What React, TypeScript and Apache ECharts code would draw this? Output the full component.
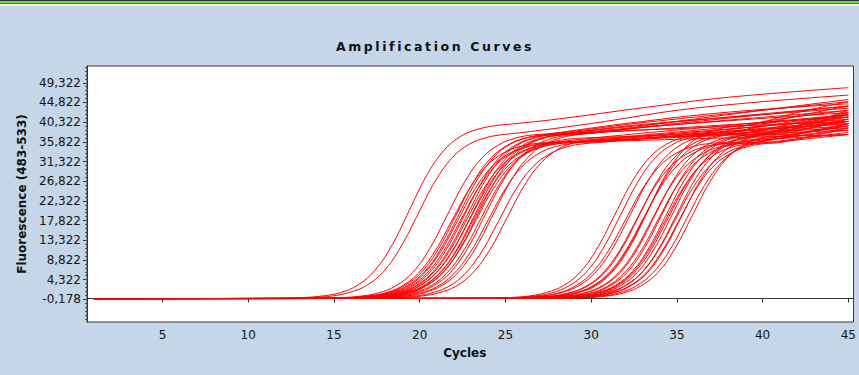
import React, { useEffect, useRef } from "react";
import * as echarts from "echarts";

// ---------- axis data ----------
const titleText = "Amplification Curves";
const xName = "Cycles";
const yName = "Fluorescence (483-533)";
const xTickValues = [5, 10, 15, 20, 25, 30, 35, 40, 45];
const yTickValues = [-0.178, 4.322, 8.822, 13.322, 17.822, 22.322, 26.822, 31.322, 35.822, 40.322, 44.822, 49.322];
const yMinorStep = 0.9;
const xRange = [0.6, 45.3];
const yRange = [-5.35, 53.15];
const firstCycle = 1;
const baselineValue = 0;

// ---------- early group: cycle of the first rising point, then one value per cycle, then plateau points ----------
const earlyStart = [11.4, 11.9, 13.6, 13.9, 14.1, 14.2, 14.3, 14.4, 14.6, 14.7, 14.8, 14.9, 15.0, 15.1, 15.2, 15.3, 15.4, 15.6, 15.8, 16.0, 16.3, 16.6, 17.1];
const earlyRise = [
  [0.05, 0.12, 0.28, 0.63, 1.4, 3.1, 6.5, 12.3, 20.2, 28.1, 33.8, 37.1, 38.7, 39.5, 39.9],
  [0.05, 0.12, 0.27, 0.6, 1.4, 3.0, 6.2, 11.8, 19.3, 26.8, 32.2, 35.3, 36.8, 37.5, 37.9],
  [0.05, 0.11, 0.25, 0.58, 1.3, 2.9, 6.0, 11.5, 19.0, 26.5, 32.0, 35.1, 36.7, 37.4, 37.7],
  [0.05, 0.1, 0.24, 0.55, 1.2, 2.7, 5.7, 10.9, 18.0, 25.1, 30.3, 33.3, 34.8, 35.5, 35.8],
  [0.05, 0.11, 0.25, 0.57, 1.3, 2.9, 6.0, 11.4, 18.9, 26.4, 31.9, 35.0, 36.6, 37.3, 37.6],
  [0.05, 0.1, 0.23, 0.52, 1.2, 2.6, 5.5, 10.6, 17.7, 24.9, 30.1, 33.1, 34.7, 35.4, 35.7],
  [0.05, 0.12, 0.27, 0.6, 1.4, 3.0, 6.2, 11.8, 19.3, 26.8, 32.2, 35.3, 36.8, 37.5, 37.9],
  [0.05, 0.1, 0.24, 0.55, 1.2, 2.7, 5.7, 10.9, 18.0, 25.1, 30.3, 33.3, 34.8, 35.5, 35.8],
  [0.05, 0.11, 0.25, 0.58, 1.3, 2.9, 6.0, 11.5, 19.0, 26.5, 32.0, 35.1, 36.7, 37.4, 37.7],
  [0.05, 0.1, 0.23, 0.52, 1.2, 2.6, 5.5, 10.6, 17.7, 24.9, 30.1, 33.1, 34.7, 35.4, 35.7],
  [0.05, 0.12, 0.27, 0.6, 1.4, 3.0, 6.2, 11.8, 19.3, 26.8, 32.2, 35.3, 36.8, 37.5, 37.9],
  [0.05, 0.1, 0.24, 0.55, 1.2, 2.7, 5.7, 10.9, 18.0, 25.1, 30.3, 33.3, 34.8, 35.5, 35.8],
  [0.05, 0.11, 0.25, 0.57, 1.3, 2.9, 6.0, 11.4, 18.9, 26.4, 31.9, 35.0, 36.6, 37.3, 37.6],
  [0.05, 0.1, 0.23, 0.52, 1.2, 2.6, 5.5, 10.6, 17.7, 24.9, 30.1, 33.1, 34.7, 35.4, 35.7],
  [0.05, 0.11, 0.25, 0.58, 1.3, 2.9, 6.0, 11.5, 19.0, 26.5, 32.0, 35.1, 36.7, 37.4, 37.7],
  [0.05, 0.1, 0.24, 0.55, 1.2, 2.7, 5.7, 10.9, 18.0, 25.1, 30.3, 33.3, 34.8, 35.5, 35.8],
  [0.05, 0.12, 0.27, 0.6, 1.4, 3.0, 6.2, 11.8, 19.3, 26.8, 32.2, 35.3, 36.8, 37.5, 37.9],
  [0.05, 0.11, 0.25, 0.57, 1.3, 2.8, 5.9, 11.2, 18.5, 25.8, 31.1, 34.2, 35.7, 36.4, 36.7],
  [0.05, 0.11, 0.25, 0.58, 1.3, 2.9, 6.0, 11.5, 19.0, 26.5, 32.0, 35.1, 36.7, 37.4, 37.7],
  [0.05, 0.1, 0.24, 0.55, 1.2, 2.7, 5.7, 10.9, 18.0, 25.1, 30.3, 33.3, 34.8, 35.5, 35.8],
  [0.05, 0.12, 0.27, 0.6, 1.4, 3.0, 6.2, 11.8, 19.3, 26.8, 32.2, 35.3, 36.8, 37.5, 37.9],
  [0.05, 0.1, 0.23, 0.52, 1.2, 2.6, 5.5, 10.6, 17.7, 24.9, 30.1, 33.1, 34.7, 35.4, 35.7],
  [0.05, 0.11, 0.25, 0.57, 1.3, 2.8, 5.9, 11.2, 18.5, 25.8, 31.1, 34.2, 35.7, 36.4, 36.7],
];
const earlyTail = [
  [[28, 41.0], [33, 43.6], [38, 46.0], [45, 48.2]],
  [[30, 40.0], [36, 43.5], [45, 46.5]],
  [[32, 40.0], [38, 42.6], [45, 44.5]],
  [[33, 37.8], [45, 42.0]],
  [[33, 39.8], [45, 43.5]],
  [[34, 37.2], [45, 40.0]],
  [[33, 40.2], [45, 45.0]],
  [[35, 37.0], [45, 39.5]],
  [[34, 39.5], [45, 42.5]],
  [[36, 37.0], [45, 38.5]],
  [[34, 40.0], [45, 44.0]],
  [[35, 37.8], [45, 41.0]],
  [[35, 39.0], [45, 41.5]],
  [[45, 37.5]],
  [[35, 39.8], [45, 43.0]],
  [[35, 37.2], [45, 40.0]],
  [[36, 39.0], [45, 40.5]],
  [[35, 37.6], [45, 41.5]],
  [[35, 40.0], [45, 44.0]],
  [[36, 37.2], [45, 39.0]],
  [[35, 40.5], [45, 45.5]],
  [[36, 37.6], [45, 40.5]],
  [[37, 38.8], [45, 42.0]],
];

// ---------- late group ----------
const lateStart = [23.4, 23.7, 24.0, 24.3, 24.6, 24.8, 25.0, 25.2, 25.3, 25.5, 25.7, 25.9, 26.1, 26.3, 26.4, 26.5, 26.7, 26.9, 27.0, 27.1, 27.3, 27.6, 27.9];
const lateRise = [
  [0.05, 0.12, 0.27, 0.6, 1.4, 3.0, 6.2, 11.8, 19.3, 26.8, 32.2, 35.3, 36.8, 37.5, 37.9],
  [0.05, 0.11, 0.25, 0.58, 1.3, 2.9, 6.0, 11.5, 19.0, 26.5, 32.0, 35.1, 36.7, 37.4, 37.7],
  [0.05, 0.1, 0.24, 0.55, 1.2, 2.7, 5.7, 10.9, 18.0, 25.1, 30.3, 33.3, 34.8, 35.5, 35.8],
  [0.05, 0.12, 0.27, 0.6, 1.4, 3.0, 6.2, 11.8, 19.3, 26.8, 32.2, 35.3, 36.8, 37.5, 37.9],
  [0.05, 0.1, 0.23, 0.52, 1.2, 2.6, 5.5, 10.6, 17.7, 24.9, 30.1, 33.1, 34.7, 35.4, 35.7],
  [0.05, 0.11, 0.25, 0.58, 1.3, 2.9, 6.0, 11.5, 19.0, 26.5, 32.0, 35.1, 36.7, 37.4, 37.7],
  [0.05, 0.1, 0.24, 0.55, 1.2, 2.7, 5.7, 10.9, 18.0, 25.1, 30.3, 33.3, 34.8, 35.5, 35.8],
  [0.05, 0.12, 0.27, 0.6, 1.4, 3.0, 6.2, 11.8, 19.3, 26.8, 32.2, 35.3, 36.8, 37.5, 37.9],
  [0.05, 0.12, 0.27, 0.61, 1.4, 3.0, 6.4, 12.1, 20.0, 27.9, 33.6, 37.0, 38.6, 39.4, 39.7],
  [0.05, 0.1, 0.23, 0.52, 1.2, 2.6, 5.5, 10.6, 17.7, 24.9, 30.1, 33.1, 34.7, 35.4, 35.7],
  [0.05, 0.11, 0.25, 0.57, 1.3, 2.9, 6.0, 11.4, 18.9, 26.4, 31.9, 35.0, 36.6, 37.3, 37.6],
  [0.05, 0.1, 0.24, 0.55, 1.2, 2.7, 5.7, 10.9, 18.0, 25.1, 30.3, 33.3, 34.8, 35.5, 35.8],
  [0.05, 0.11, 0.25, 0.58, 1.3, 2.9, 6.0, 11.5, 19.0, 26.5, 32.0, 35.1, 36.7, 37.4, 37.7],
  [0.05, 0.1, 0.23, 0.52, 1.2, 2.6, 5.5, 10.6, 17.7, 24.9, 30.1, 33.1, 34.7, 35.4, 35.7],
  [0.05, 0.12, 0.27, 0.6, 1.4, 3.0, 6.2, 11.8, 19.3, 26.8, 32.2, 35.3, 36.8, 37.5, 37.9],
  [0.05, 0.11, 0.25, 0.57, 1.3, 2.8, 5.9, 11.2, 18.5, 25.8, 31.1, 34.2, 35.7, 36.4, 36.7],
  [0.05, 0.11, 0.25, 0.58, 1.3, 2.9, 6.0, 11.5, 19.0, 26.5, 32.0, 35.1, 36.7, 37.4, 37.7],
  [0.05, 0.1, 0.24, 0.55, 1.2, 2.7, 5.7, 10.9, 18.0, 25.1, 30.3, 33.3, 34.8, 35.5, 35.8],
  [0.05, 0.12, 0.27, 0.6, 1.4, 3.0, 6.2, 11.8, 19.3, 26.8, 32.2, 35.3, 36.8, 37.5, 37.9],
  [0.05, 0.1, 0.23, 0.52, 1.2, 2.6, 5.5, 10.6, 17.7, 24.9, 30.1, 33.1, 34.7, 35.4, 35.7],
  [0.05, 0.11, 0.25, 0.58, 1.3, 2.9, 6.0, 11.5, 19.0, 26.5, 32.0, 35.1, 36.7, 37.4, 37.7],
  [0.05, 0.11, 0.25, 0.57, 1.3, 2.8, 5.9, 11.2, 18.5, 25.8, 31.1, 34.2, 35.7, 36.4, 36.7],
  [0.05, 0.11, 0.25, 0.58, 1.3, 2.9, 6.0, 11.5, 19.0, 26.5, 32.0, 35.1, 36.7, 37.4, 37.7],
];
const lateTail = [
  [[40, 40.4], [45, 43.0]],
  [[41, 40.0], [45, 42.0]],
  [[41, 38.3], [45, 40.5]],
  [[41, 40.8], [45, 44.0]],
  [[45, 39.5]],
  [[45, 42.5]],
  [[45, 38.5]],
  [[45, 41.5]],
  [[42, 42.5], [45, 45.0]],
  [[45, 39.0]],
  [[45, 42.0]],
  [[45, 40.0]],
  [[45, 43.0]],
  [[45, 38.0]],
  [[45, 41.0]],
  [[45, 39.5]],
  [[45, 42.5]],
  [[45, 37.5]],
  [[45, 40.5]],
  [[45, 39.0]],
  [[45, 41.0]],
  [[45, 37.5]],
  [[45, 40.0]],
];

const FONT = "DejaVu Sans";
const TEXT_COLOR = "#141414";
const LINE_RED = "#ff0000";

function buildCurve(start: number, rise: number[], tail: number[][]) {
  const pts: number[][] = [[firstCycle, baselineValue]];
  rise.forEach((v, i) => pts.push([Math.round((start + i) * 100) / 100, v]));
  tail.forEach((p) => pts.push(p));
  return pts;
}

function minorTickValues() {
  const out: number[] = [];
  const step = yMinorStep;
  let v = yTickValues[0];
  while (v - step > yRange[0]) v -= step;
  for (; v < yRange[1]; v += step) out.push(Math.round(v * 1000) / 1000);
  return out;
}

export default function App() {
  const ref = useRef<HTMLDivElement>(null);

  useEffect(() => {
    if (!ref.current) return;
    const el = ref.current;
    const chart = echarts.init(el, undefined, { renderer: "svg" });

    const curveStyle = {
      type: "line" as const,
      showSymbol: false,
      symbol: "none",
      smooth: 0.4,
      silent: true,
      lineStyle: { color: LINE_RED, width: 1 },
      emphasis: { disabled: true },
    };

    const series: any[] = [];
    earlyStart.forEach((s, i) => series.push({ ...curveStyle, name: "early" + i, data: buildCurve(s, earlyRise[i], earlyTail[i]) }));
    lateStart.forEach((s, i) => series.push({ ...curveStyle, name: "late" + i, data: buildCurve(s, lateRise[i], lateTail[i]) }));

    const option: any = {
      animation: false,
      backgroundColor: "#c4d6e8",
      graphic: [
        { type: "rect", shape: { x: 0, y: 0, width: 859, height: 1 }, style: { fill: "#2b2b2b" } },
        { type: "rect", shape: { x: 0, y: 1, width: 859, height: 2 }, style: { fill: "#66dd55" } },
        { type: "rect", shape: { x: 0, y: 3, width: 859, height: 1 }, style: { fill: "#4d7a40" } },
        { type: "rect", shape: { x: 0, y: 4, width: 859, height: 2 }, style: { fill: "#f2f2c6" } },
        {
          type: "text",
          x: 435,
          y: 46,
          style: {
            text: titleText,
            textAlign: "center",
            textVerticalAlign: "middle",
            fontFamily: FONT,
            fontWeight: "bold",
            fontSize: 12.5,
            fill: "#111",
          },
        },
      ],
      grid: {
        left: 87,
        right: 5,
        top: 66,
        bottom: 53,
        show: true,
        backgroundColor: "#ffffff",
        borderColor: "#3a3a3a",
        borderWidth: 1,
      },
      xAxis: {
        type: "value",
        min: xRange[0],
        max: xRange[1],
        name: xName,
        nameLocation: "middle",
        nameGap: 25,
        nameTextStyle: { fontFamily: FONT, fontWeight: "bold", fontSize: 12, color: "#111", padding: [0, 11, 0, 0] },
        axisLine: { show: true, lineStyle: { color: "#333" } },
        axisTick: { show: true, customValues: xTickValues, length: 4, lineStyle: { color: "#333" } },
        axisLabel: { customValues: xTickValues, margin: 7, color: TEXT_COLOR, fontFamily: FONT, fontSize: 12 },
        splitLine: { show: false },
      },
      yAxis: [
        {
          type: "value",
          min: yRange[0],
          max: yRange[1],
          name: yName,
          nameLocation: "middle",
          nameGap: 59,
          nameTextStyle: { fontFamily: FONT, fontWeight: "bold", fontSize: 12, color: "#111" },
          axisLine: { show: true, lineStyle: { color: "#333" } },
          axisTick: { show: true, customValues: yTickValues, length: 4, lineStyle: { color: "#333" } },
          axisLabel: {
            customValues: yTickValues,
            margin: 6,
            color: TEXT_COLOR,
            fontFamily: FONT,
            fontSize: 12,
            formatter: (v: number) => v.toFixed(3).replace(".", ","),
          },
          splitLine: { show: false },
        },
        {
          type: "value",
          min: yRange[0],
          max: yRange[1],
          position: "left",
          axisLine: { show: false },
          axisTick: { show: true, customValues: minorTickValues(), length: 2, lineStyle: { color: "#555" } },
          axisLabel: { show: false },
          splitLine: { show: false },
        },
      ],
      series,
    };

    chart.setOption(option);

    const applySpacing = () => {
      el.querySelectorAll("text").forEach((t) => {
        if (t.textContent === titleText) {
          t.setAttribute("letter-spacing", "2.6");
        }
      });
    };
    applySpacing();
    chart.on("finished", applySpacing);
    const timer = setTimeout(applySpacing, 50);

    return () => {
      clearTimeout(timer);
      chart.dispose();
    };
  }, []);

  return (
    <div
      ref={ref}
      style={{ position: "fixed", left: 0, top: 0, width: 859, height: 375 }}
    />
  );
}
